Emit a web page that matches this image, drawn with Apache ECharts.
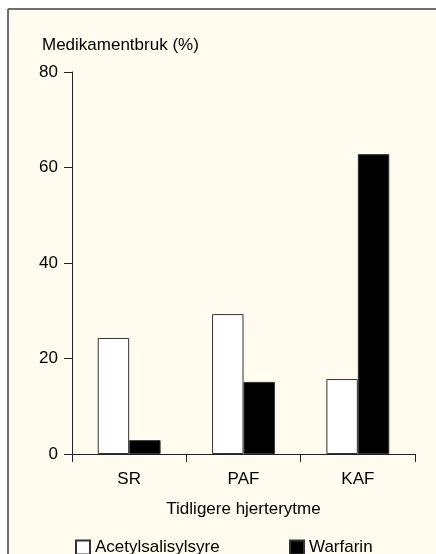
<!DOCTYPE html>
<html>
<head>
<meta charset="utf-8">
<script src="https://cdn.jsdelivr.net/npm/echarts@6/dist/echarts.min.js"></script>
<style>
html,body{margin:0;padding:0;background:#ffffff;}
#c{width:436px;height:554px;}
</style>
</head>
<body>
<div id="c"></div>
<script>
var categories = ['SR', 'PAF', 'KAF'];
var aspirin = [24.3, 29.3, 15.7];
var warfarin = [2.9, 15.1, 62.8];
var yTicks = [0, 20, 40, 60, 80];
var seriesNames = ['Acetylsalisylsyre', 'Warfarin'];

var chart = echarts.init(document.getElementById('c'), null, {renderer: 'canvas'});
var font = 'Liberation Sans, Arial, sans-serif';
chart.setOption({
  backgroundColor: '#ffffff',
  animation: false,
  graphic: [
    {type: 'rect', z: -10, shape: {x: 8, y: 10, width: 440, height: 560}, style: {fill: '#fffbee'}},
    {type: 'line', z: -5, shape: {x1: 8, y1: 9, x2: 436, y2: 9}, style: {stroke: '#6e6e6e', lineWidth: 2}},
    {type: 'line', z: -5, shape: {x1: 8, y1: 9, x2: 8, y2: 554}, style: {stroke: '#6e6e6e', lineWidth: 2}}
  ],
  title: {
    text: 'Medikamentbruk (%)',
    left: 42, top: 37, padding: 0,
    textStyle: {fontFamily: font, fontSize: 17, fontWeight: 'normal', color: '#000'}
  },
  legend: [
    {data: [seriesNames[0]], left: 75, top: 539, padding: 0, icon: 'rect', itemWidth: 14, itemHeight: 14, itemGap: 0,
     textStyle: {fontFamily: font, fontSize: 17, color: '#000'}},
    {data: [seriesNames[1]], left: 289, top: 539, padding: 0, icon: 'rect', itemWidth: 14, itemHeight: 14, itemGap: 0,
     textStyle: {fontFamily: font, fontSize: 17, color: '#000'}}
  ],
  grid: {left: 72, top: 72, right: 21, bottom: 100},
  xAxis: {
    type: 'category',
    data: categories,
    name: 'Tidligere hjerterytme',
    nameLocation: 'middle',
    nameGap: 47,
    nameTextStyle: {fontFamily: font, fontSize: 17, color: '#000'},
    axisLine: {lineStyle: {color: '#222', width: 1}},
    axisTick: {show: true, length: 8, lineStyle: {color: '#222'}},
    axisLabel: {fontFamily: font, fontSize: 17, color: '#000', margin: 17}
  },
  yAxis: {
    type: 'value',
    min: yTicks[0], max: yTicks[yTicks.length - 1], interval: 20,
    axisLine: {show: true, lineStyle: {color: '#222', width: 1}},
    axisTick: {show: true, length: 8, lineStyle: {color: '#222'}},
    axisLabel: {fontFamily: font, fontSize: 17, color: '#000', margin: 14},
    splitLine: {show: false}
  },
  series: [
    {name: seriesNames[0], type: 'bar', data: aspirin, barGap: '0%', barCategoryGap: '45%',
     itemStyle: {color: '#ffffff', borderColor: '#333', borderWidth: 1}},
    {name: seriesNames[1], type: 'bar', data: warfarin,
     itemStyle: {color: '#000000', borderColor: '#333', borderWidth: 1}}
  ]
});
</script>
</body>
</html>
